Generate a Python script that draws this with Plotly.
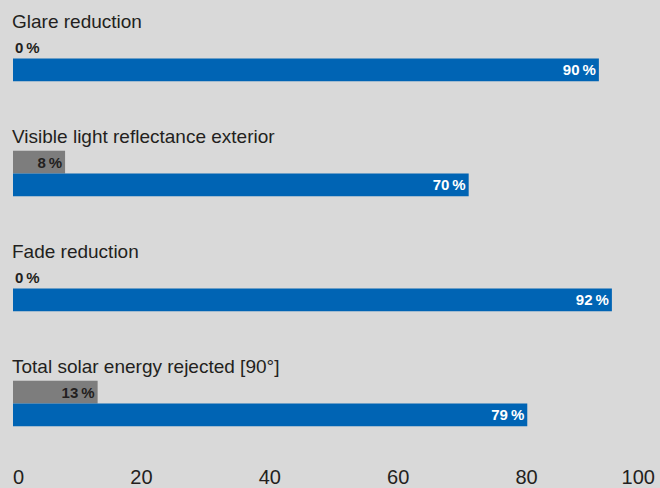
import plotly.graph_objects as go

categories = ["Glare reduction", "Visible light reflectance exterior",
              "Fade reduction", "Total solar energy rejected [90°]"]
gray_values = [0, 8, 0, 13]
blue_values = [90, 70, 92, 79]
tick_values = [0, 20, 40, 60, 80, 100]
tick_labels = ["0", "20", "40", "60", "80", "100"]

FONT = "Liberation Sans, Arial, sans-serif"
BLUE = "#0064b4"
GRAY = "#7d7d7d"
TEXT = "#231f20"

def fmt(v):
    return f"{v}\u2009%"

ypos = list(range(len(categories)))

fig = go.Figure()
fig.add_trace(go.Bar(
    y=ypos, x=gray_values, orientation="h",
    marker=dict(color=GRAY, line=dict(width=0)),
    text=[fmt(v) if v > 0 else "" for v in gray_values], textposition="inside",
    insidetextanchor="end", constraintext="none",
    textfont=dict(family=FONT, size=15, color=TEXT, weight="bold"),
    cliponaxis=False, hoverinfo="skip",
))
fig.add_trace(go.Bar(
    y=ypos, x=blue_values, orientation="h",
    marker=dict(color=BLUE, line=dict(width=0)),
    text=[fmt(v) for v in blue_values], textposition="inside",
    insidetextanchor="end", constraintext="none",
    textfont=dict(family=FONT, size=15, color="white", weight="bold"),
    cliponaxis=False, hoverinfo="skip",
))

# invisible helper traces to activate the label axes
for ax in ["x2", "x3", "x4"]:
    fig.add_trace(go.Scatter(x=[None], y=[None], xaxis=ax, showlegend=False, hoverinfo="skip"))

for i, c in enumerate(categories):
    fig.add_annotation(text=c, x=0, xref="paper", xanchor="left", xshift=-3,
                       y=i - 0.32, yref="y", yanchor="middle", showarrow=False,
                       font=dict(family=FONT, size=19, color=TEXT))

# labels for zero-valued gray bars (Plotly draws no text on empty bars)
for i, v in enumerate(gray_values):
    if v == 0:
        fig.add_annotation(text=fmt(v), x=v, xref="x", xanchor="left", xshift=0,
                           y=i, yref="y", yanchor="middle", yshift=11.5,
                           showarrow=False,
                           font=dict(family=FONT, size=15, color=TEXT, weight="bold"))

BAR_RANGE = [0, 99.39]
LABEL_RANGE = [0, 100.78]
common = dict(domain=[0, 1], showgrid=False, zeroline=False, showline=False,
              ticks="", tickfont=dict(family=FONT, size=20, color=TEXT),
              ticklabelstandoff=2)

fig.update_layout(
    width=660, height=488,
    margin=dict(l=13, r=0, t=1, b=23),
    paper_bgcolor="#d9d9d9", plot_bgcolor="rgba(0,0,0,0)",
    barmode="group", bargap=0.603, bargroupgap=0,
    showlegend=False,
    xaxis=dict(range=BAR_RANGE, showticklabels=False, **common),
    xaxis2=dict(range=LABEL_RANGE, overlaying="x", anchor="y", side="bottom",
                tickmode="array", tickvals=tick_values[1:-1], ticktext=tick_labels[1:-1], **common),
    xaxis3=dict(range=LABEL_RANGE, overlaying="x", anchor="y", side="bottom",
                tickmode="array", tickvals=tick_values[:1], ticktext=tick_labels[:1],
                ticklabelposition="outside right", **common),
    xaxis4=dict(range=LABEL_RANGE, overlaying="x", anchor="y", side="bottom",
                tickmode="array", tickvals=tick_values[-1:], ticktext=tick_labels[-1:],
                ticklabelposition="outside left", **common),
    yaxis=dict(range=[3.5, -0.5], showticklabels=False, showgrid=False,
               zeroline=False, showline=False, ticks=""),
)

fig.write_html("out.html", config={"displayModeBar": False},
               post_script="document.body.style.margin='0';")
